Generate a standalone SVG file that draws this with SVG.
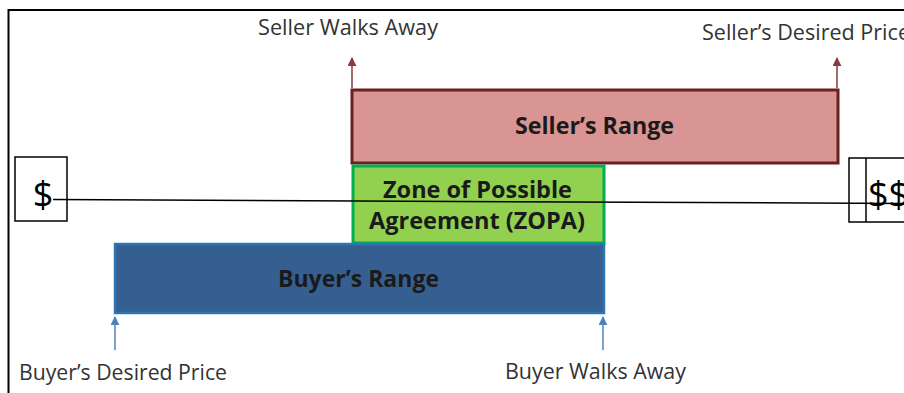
<svg xmlns="http://www.w3.org/2000/svg" width="904" height="393" viewBox="0 0 904 393">
<defs>
<style>
.lbl{font-family:"Open Sans","Liberation Sans",sans-serif;font-size:21px;fill:#333333}
.bold{font-family:"Open Sans","Liberation Sans",sans-serif;font-size:23px;font-weight:bold;fill:#1a1a1a}
.cur{font-family:"Open Sans","Liberation Sans",sans-serif;font-size:36px;fill:#000}
.box{fill:#fff;stroke:#000;stroke-width:1.5}
</style>
<marker id="arrRed" viewBox="0 0 10 10" refX="9" refY="5" markerWidth="9" markerHeight="9" markerUnits="userSpaceOnUse" orient="auto">
<path d="M0,0 L10,5 L0,10 Z" fill="#8b3a3a"/>
</marker>
<marker id="arrBlue" viewBox="0 0 10 10" refX="9" refY="5" markerWidth="9" markerHeight="9" markerUnits="userSpaceOnUse" orient="auto">
<path d="M0,0 L10,5 L0,10 Z" fill="#4f81bd"/>
</marker>
</defs>
<rect width="904" height="393" fill="#fff"/>
<g id="frame" fill="none" stroke="#000" stroke-width="2">
<path d="M8.5,393 V10 H904"/>
</g>
<g id="seller-range">
<rect x="352" y="90" width="486" height="73" fill="#d99594" stroke="#6b1f1f" stroke-width="3"/>
<text class="bold" x="515" y="134" textLength="159" lengthAdjust="spacingAndGlyphs">Seller’s Range</text>
</g>
<g id="zopa">
<rect x="353" y="166" width="251" height="77" fill="#92d050" stroke="#00b050" stroke-width="3"/>
<text class="bold" x="383" y="198" textLength="189" lengthAdjust="spacingAndGlyphs">Zone of Possible</text>
<text class="bold" x="369" y="229" textLength="216" lengthAdjust="spacingAndGlyphs">Agreement (ZOPA)</text>
</g>
<g id="buyer-range">
<rect x="115" y="244" width="489" height="69" fill="#365f91" stroke="#2e75b6" stroke-width="2.5"/>
<text class="bold" x="278" y="287" textLength="161" lengthAdjust="spacingAndGlyphs">Buyer’s Range</text>
</g>
<g id="low-price">
<rect class="box" x="15" y="157" width="52" height="64"/>
<text class="cur" x="43" y="207" text-anchor="middle">$</text>
</g>
<g id="high-price">
<rect class="box" x="849" y="158" width="60" height="64"/>
<line x1="866" y1="158" x2="866" y2="222" stroke="#000" stroke-width="1.5"/>
<text class="cur" x="868" y="207">$$</text>
</g>
<g id="labels">
<text class="lbl" x="258" y="35" textLength="180" lengthAdjust="spacingAndGlyphs">Seller Walks Away</text>
<text class="lbl" x="702" y="40" textLength="208" lengthAdjust="spacingAndGlyphs">Seller’s Desired Price</text>
<text class="lbl" x="19" y="380" textLength="208" lengthAdjust="spacingAndGlyphs">Buyer’s Desired Price</text>
<text class="lbl" x="505" y="379" textLength="181" lengthAdjust="spacingAndGlyphs">Buyer Walks Away</text>
</g>
<g id="connectors">
<line x1="352" y1="88" x2="352" y2="58" stroke="#8b3a3a" stroke-width="1.5" marker-end="url(#arrRed)"/>
<line x1="837" y1="88" x2="837" y2="58" stroke="#8b3a3a" stroke-width="1.5" marker-end="url(#arrRed)"/>
<line x1="115" y1="350" x2="115" y2="317" stroke="#4f81bd" stroke-width="1.5" marker-end="url(#arrBlue)"/>
<line x1="603" y1="350" x2="603" y2="317" stroke="#4f81bd" stroke-width="1.5" marker-end="url(#arrBlue)"/>
<line x1="53" y1="199.5" x2="904" y2="203.5" stroke="#000" stroke-width="1.5"/>
</g>
</svg>
